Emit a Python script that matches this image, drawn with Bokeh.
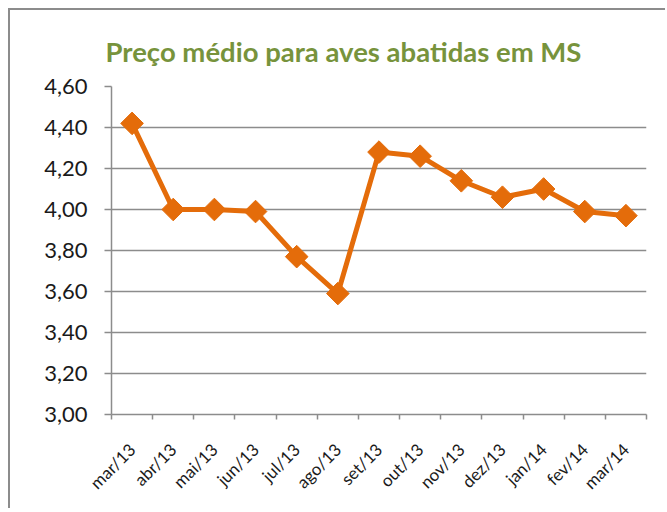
import math
from bokeh.plotting import figure
from bokeh.models import FixedTicker, Range1d, ColumnDataSource
from bokeh.embed import file_html
from bokeh.resources import INLINE

months = ["mar/13", "abr/13", "mai/13", "jun/13", "jul/13", "ago/13", "set/13",
          "out/13", "nov/13", "dez/13", "jan/14", "fev/14", "mar/14"]
prices = [4.42, 4.00, 4.00, 3.99, 3.77, 3.59, 4.28, 4.26, 4.14, 4.06, 4.10, 3.99, 3.97]
y_ticks = [3.00, 3.20, 3.40, 3.60, 3.80, 4.00, 4.20, 4.40, 4.60]
y_tick_labels = ["3,00", "3,20", "3,40", "3,60", "3,80", "4,00", "4,20", "4,40", "4,60"]
title_text = "Preço médio para aves abatidas em MS"

FONT = "Lato"
ORANGE = "#E46C0A"
GRAY = "#8c8c8c"

n = len(months)
centers = [i + 0.5 for i in range(n)]
bounds = list(range(n + 1))

src = ColumnDataSource(dict(x=centers, y=prices, m=months))

p = figure(width=657, height=500, output_backend="svg", toolbar_location=None,
           x_range=Range1d(0, n), y_range=Range1d(y_ticks[0], y_ticks[-1]),
           min_border_left=101, min_border_right=21, min_border_top=76,
           min_border_bottom=96)
p.styles = {"border-left": "2px solid #8c8c8c", "border-top": "2px solid #8c8c8c",
            "margin-left": "8px", "margin-top": "8px"}
p.outline_line_color = None
p.background_fill_color = "white"
p.border_fill_color = "white"

p.title.text = title_text
p.title.align = "left"
p.title.text_font = FONT
p.title.text_font_style = "bold"
p.title.text_font_size = "27.5px"
p.title.text_color = "#77933C"
p.title.standoff = 37
p.title.offset = -6

p.line("x", "y", source=src, line_color=ORANGE, line_width=5)
p.scatter("x", "y", source=src, marker="square", angle=math.pi / 4, size=16,
          fill_color=ORANGE, line_color=ORANGE)

# x axis
xa = p.xaxis[0]
xa.ticker = FixedTicker(ticks=centers, minor_ticks=bounds)
xa.major_label_overrides = {c: m for c, m in zip(centers, months)}
xa.major_tick_line_color = None
xa.minor_tick_line_color = GRAY
xa.minor_tick_line_width = 1.5
xa.minor_tick_out = 5
xa.minor_tick_in = 0
xa.axis_line_color = GRAY
xa.axis_line_width = 1.5
xa.major_label_orientation = math.pi / 4
xa.major_label_text_font = FONT
xa.major_label_text_font_size = "17px"
xa.major_label_text_color = "#1a1a1a"
xa.major_label_standoff = 26

# y axis
ya = p.yaxis[0]
ya.ticker = FixedTicker(ticks=y_ticks, minor_ticks=[])
ya.major_label_overrides = {t: l for t, l in zip(y_ticks, y_tick_labels)}
ya.major_tick_line_color = GRAY
ya.major_tick_line_width = 1.5
ya.major_tick_out = 7
ya.major_tick_in = 0
ya.minor_tick_line_color = None
ya.axis_line_color = GRAY
ya.axis_line_width = 1.5
ya.major_label_text_font = FONT
ya.major_label_text_font_size = "22px"
ya.major_label_text_color = "#1a1a1a"
ya.major_label_standoff = 17

p.xgrid.grid_line_color = None
p.ygrid.ticker = FixedTicker(ticks=y_ticks)
p.ygrid.grid_line_color = GRAY
p.ygrid.grid_line_width = 1.5

open("out.html", "w").write(file_html(p, INLINE))
